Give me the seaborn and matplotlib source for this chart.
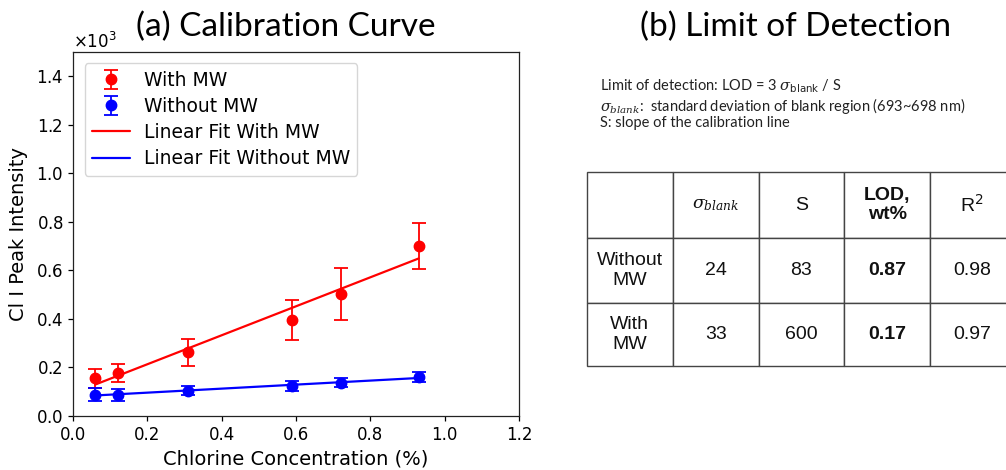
import numpy as np
import pandas as pd
import matplotlib
matplotlib.use("Agg")
import matplotlib.pyplot as plt
import seaborn as sns
from matplotlib.ticker import ScalarFormatter, FormatStrFormatter

# ---- data ----
conc = [0.06, 0.12, 0.31, 0.59, 0.72, 0.93]
with_mw = [155, 178, 262, 395, 503, 700]
with_mw_err = [40, 38, 55, 83, 108, 95]
without_mw = [88, 88, 105, 125, 138, 160]
without_mw_err = [27, 25, 20, 20, 20, 20]

table_cols = [r"$\sigma_{blank}$", "S", "LOD,\nwt%", "R$^2$"]
table_rows = ["Without\nMW", "With\nMW"]
sigma_blank = ["24", "33"]
slope_S = ["83", "600"]
lod = ["0.87", "0.17"]
r2 = ["0.98", "0.97"]

note_lines = [r"Limit of detection: LOD = 3 $\sigma_{\mathsf{blank}}$ / S",
              r"$\sigma_{blank}$:  standard deviation of blank region (693~698 nm)",
              "S: slope of the calibration line"]

sns.set_style("ticks")
plt.rcParams.update({
    'font.family': ['DejaVu Sans'],
    'text.color': 'black', 'axes.labelcolor': 'black',
    'xtick.color': 'black', 'ytick.color': 'black',
    'axes.edgecolor': '#222222', 'axes.linewidth': 0.9,
    'xtick.major.size': 3.5, 'ytick.major.size': 3.5,
    'xtick.major.width': 0.9, 'ytick.major.width': 0.9,
})

fig = plt.figure(figsize=(10.06, 4.70), dpi=100)
ax = fig.add_axes([73/1006, 1-416/470, 446/1006, (416-52)/470])

ax.errorbar(conc, with_mw, yerr=with_mw_err, fmt='o', color='red', ms=7.5,
            capsize=5, elinewidth=1.3, capthick=1.3, label='With MW', zorder=3)
ax.errorbar(conc, without_mw, yerr=without_mw_err, fmt='o', color='blue', ms=7.5,
            capsize=5, elinewidth=1.3, capthick=1.3, label='Without MW', zorder=3)

p1 = np.polyfit(conc, with_mw, 1)
p2 = np.polyfit(conc, without_mw, 1)
xs = np.array([min(conc), max(conc)])
df_fit = pd.DataFrame({"x": np.concatenate([xs, xs]),
                       "y": np.concatenate([np.polyval(p1, xs), np.polyval(p2, xs)]),
                       "s": ["Linear Fit With MW"]*2 + ["Linear Fit Without MW"]*2})
sns.lineplot(data=df_fit, x="x", y="y", hue="s",
             palette={"Linear Fit With MW": "red", "Linear Fit Without MW": "blue"},
             ax=ax, lw=1.6, zorder=2)

ax.set_xlim(0, 1.2)
ax.set_ylim(0, 1500)
ax.set_xticks(np.arange(0, 1.21, 0.2))
ax.set_yticks(np.arange(0, 1401, 200))
fmt = ScalarFormatter(useMathText=True)
fmt.set_powerlimits((3, 3))
ax.yaxis.set_major_formatter(fmt)
ax.xaxis.set_major_formatter(FormatStrFormatter('%.1f'))
ax.yaxis.get_offset_text().set_fontsize(12)
ax.tick_params(labelsize=12)
ax.set_xlabel("Chlorine Concentration (%)", fontsize=14, labelpad=4)
ax.set_ylabel("Cl I Peak Intensity", fontsize=14, labelpad=6)

h, l = ax.get_legend_handles_labels()
order = ['With MW', 'Without MW', 'Linear Fit With MW', 'Linear Fit Without MW']
hd = dict(zip(l, h))
ax.legend([hd[k] for k in order], order, loc='upper left', fontsize=13.5,
          handlelength=2.0, handletextpad=0.75, borderpad=0.4, labelspacing=0.38,
          bbox_to_anchor=(0.005, 0.995))

title_font = ['Lato', 'DejaVu Sans']
fig.text(286/1006, 1-27/470, "(a) Calibration Curve", ha='center', va='center',
         fontsize=24, family=title_font)
fig.text(796/1006, 1-27/470, "(b) Limit of Detection", ha='center', va='center',
         fontsize=24, family=title_font)

fig.text(600/1006, 1-104/470, "\n".join(note_lines),
         ha='left', va='center', fontsize=10.5, family=['Lato', 'DejaVu Sans'],
         color='#222222', linespacing=1.05, math_fontfamily='dejavuserif')

# table
tax = fig.add_axes([587/1006, 1-366/470, (1014-587)/1006, (366-172)/470])
tax.axis('off')
cell_text = [[""] + table_cols]
for i in range(2):
    cell_text.append([table_rows[i], sigma_blank[i], slope_S[i], lod[i], r2[i]])
tbl = tax.table(cellText=cell_text, bbox=[0, 0, 1, 1], cellLoc='center')
tbl.auto_set_font_size(False)
widths = [86, 86, 86, 86, 84]
heights = [66, 65, 63]
for (r, c), cell in tbl.get_celld().items():
    cell.set_width(widths[c] / sum(widths))
    cell.set_height(heights[r] / sum(heights))
    cell.set_edgecolor('#444444')
    cell.set_linewidth(1.0)
    t = cell.get_text()
    t.set_fontsize(14)
    t.set_color('#111111')
    t.set_family(['Liberation Sans', 'DejaVu Sans'])
    if c == 3:
        t.set_fontweight('bold')
    if r == 0 and c == 1:
        t.set_fontsize(12.5)
        t.set_math_fontfamily('dejavuserif')

fig.savefig("out.png", dpi=100)
